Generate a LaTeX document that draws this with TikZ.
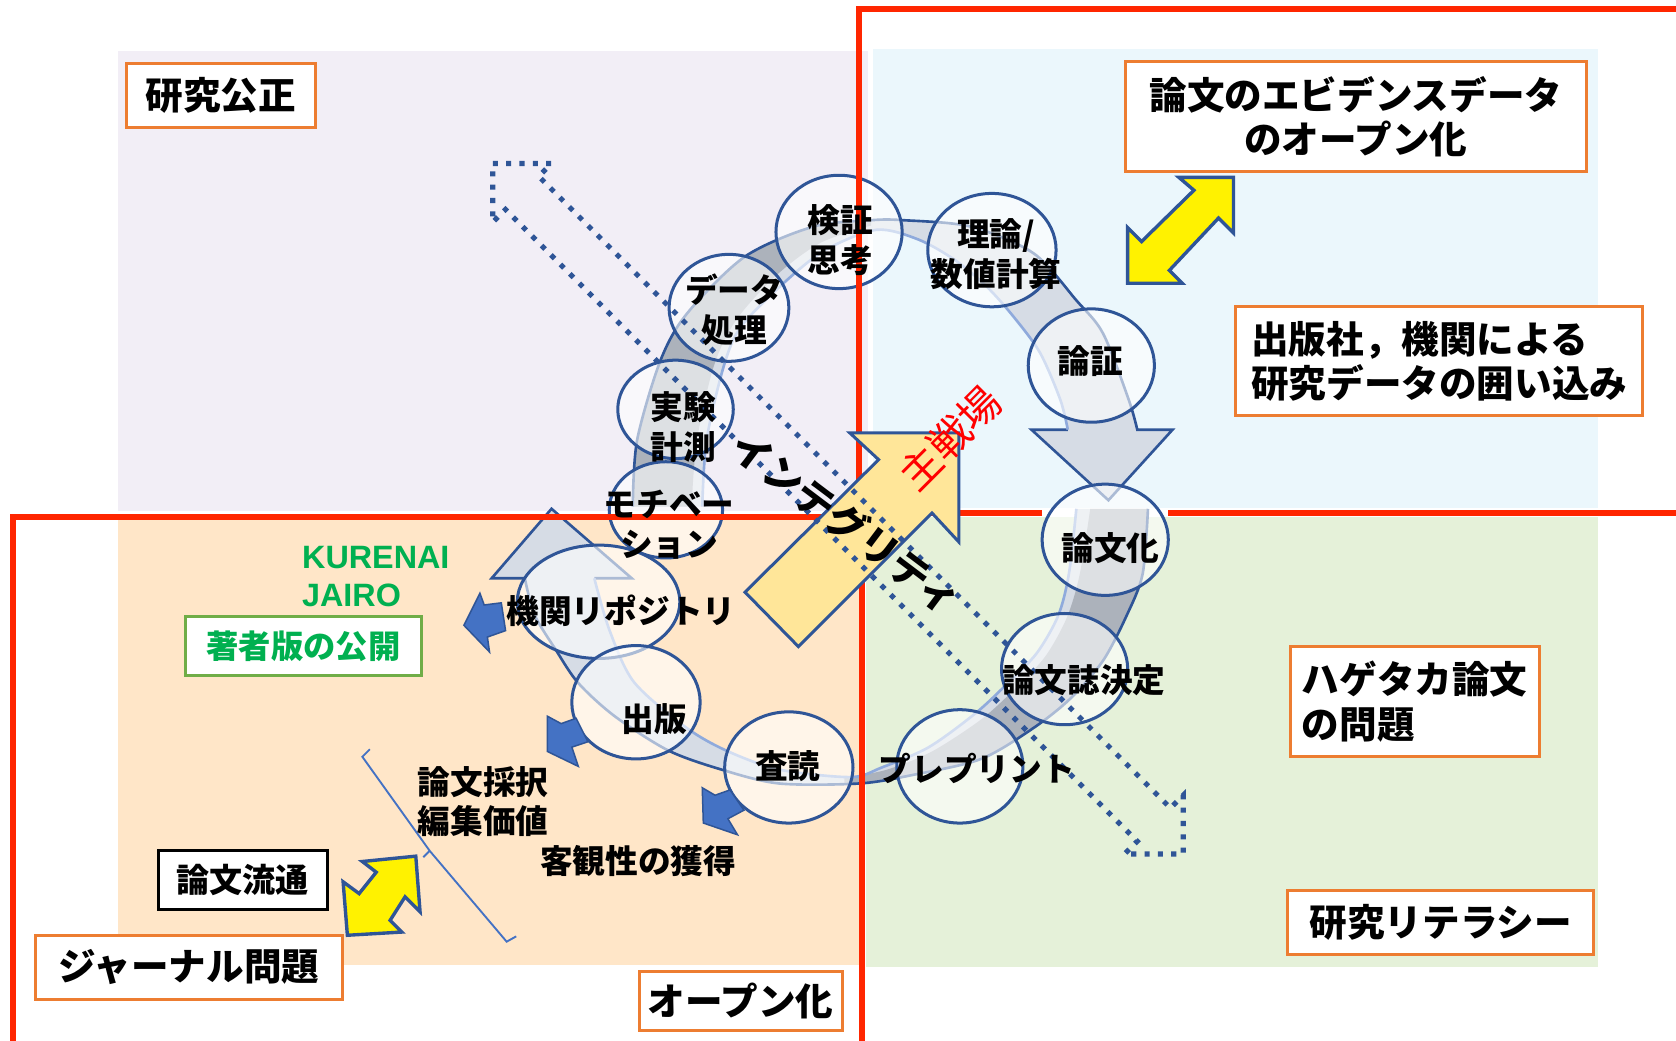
\documentclass[tikz,border=0pt]{standalone}
\usepackage{fontspec}
\usepackage{tikz}
\usetikzlibrary{shapes.geometric}

\newfontfamily\jp{Noto Sans CJK JP}
\newfontfamily\lat{Liberation Sans}

\definecolor{lav}{RGB}{242,238,246}
\definecolor{sky}{RGB}{235,247,252}
\definecolor{peach}{RGB}{255,230,200}
\definecolor{lime}{RGB}{229,241,217}
\definecolor{redline}{RGB}{255,38,0}
\definecolor{navy}{RGB}{47,85,151}
\definecolor{boxorange}{RGB}{237,125,49}
\definecolor{bandlight}{RGB}{214,220,229}
\definecolor{banddark}{RGB}{172,178,187}
\definecolor{bandedge}{RGB}{143,170,220}
\definecolor{arrowblue}{RGB}{68,114,196}
\definecolor{arrowgold}{RGB}{255,230,153}
\definecolor{greentext}{RGB}{0,176,80}
\definecolor{greenbox}{RGB}{112,173,71}

\tikzset{
  bub/.style={ellipse, draw=navy, line width=0.8pt, fill=white, fill opacity=0.6, inner sep=0pt},
  txt/.style={font=\jp\bfseries\fontsize{8.7}{10.6}\selectfont, align=center, inner sep=0pt},
  tag/.style={draw=boxorange, line width=0.8pt, fill=white, align=center, inner sep=0pt,
    font=\jp\bfseries\fontsize{10}{11.8}\selectfont},
  frame/.style={redline, line width=1.6pt},
  blockblue/.style={fill=arrowblue, draw=navy, line width=0.4pt},
  blockyellow/.style={fill=yellow, draw=navy, line width=0.9pt},
}

\begin{document}
\begin{tikzpicture}[x=0.01cm, y=-0.01cm]
\clip (0,0) rectangle (1568,973);

% Quadrants
\fill[lav] (110,48) rectangle (812,478);
\fill[sky] (817,46) rectangle (1495,475);
\fill[peach] (110,486) rectangle (806,903);
\fill[lime] (810,484) rectangle (1495,905);

% Research cycle, upper band
\fill[bandlight] plot[smooth] coordinates {(592,474) (596,412) (618,337) (643,293) (697,240) (761,212) (815,206) (845,206) (908,212) (967,237) (1007,281) (1032,312) (1056,374) (1064,402)}
  -- (1097,402) -- (1037,468) -- (965,402) -- (999,402)
  -- plot[smooth] coordinates {(999,402) (992,374) (973,330) (948,296) (923,268) (893,243) (859,224) (820,215) (772,234) (733,265) (693,306) (677,343) (661,412) (657,474)} -- cycle;
\fill[banddark] plot[smooth] coordinates {(592,474) (596,412) (618,337) (643,293) (697,240) (761,212) (815,206)}
  -- plot[smooth] coordinates {(815,211) (768,227) (727,257) (689,299) (668,342) (652,412) (647,474)} -- cycle;
\draw[navy, line width=0.7pt] plot[smooth] coordinates {(592,474) (596,412) (618,337) (643,293) (697,240) (761,212) (815,206) (845,206) (908,212) (967,237) (1007,281) (1032,312) (1056,374) (1064,402)}
  -- (1097,402) -- (1037,468) -- (965,402) -- (999,402);
\draw[bandedge, line width=0.7pt] plot[smooth] coordinates {(999,402) (992,374) (973,330) (948,296) (923,268) (893,243) (859,224) (820,215) (772,234) (733,265) (693,306) (677,343) (661,412) (657,474)};

% Research cycle, lower band
\fill[bandlight] plot[smooth] coordinates {(1074,476) (1069,537) (1054,576) (1032,618) (1002,653) (967,681) (918,710) (854,725) (804,733) (729,733) (675,720) (625,702) (575,670) (541,639) (520,608) (500,575) (491,541)}
  -- (460,541) -- (516,476) -- (591,541) -- (556,541)
  -- plot[smooth] coordinates {(556,541) (570,589) (593,638) (641,680) (679,702) (729,720) (796,727) (825,718) (869,699) (913,667) (943,639) (970,611) (990,576) (1000,537) (1007,476)} -- cycle;
\fill[banddark] plot[smooth] coordinates {(1074,476) (1069,537) (1054,576) (1032,618) (1002,653) (967,681) (918,710) (854,725) (804,733) (790,734)}
  -- plot[smooth] coordinates {(790,728) (830,720) (872,703) (918,673) (950,644) (978,614) (998,578) (1010,538) (1020,476)} -- cycle;
\draw[navy, line width=0.7pt] plot[smooth] coordinates {(1074,476) (1069,537) (1054,576) (1032,618) (1002,653) (967,681) (918,710) (854,725) (804,733) (729,733) (675,720) (625,702) (575,670) (541,639) (520,608) (500,575) (491,541)}
  -- (460,541) -- (516,476) -- (591,541) -- (556,541);
\draw[bandedge, line width=0.7pt] plot[smooth] coordinates {(556,541) (570,589) (593,638) (641,680) (679,702) (729,720) (796,727) (825,718) (869,699) (913,667) (943,639) (970,611) (990,576) (1000,537) (1007,476)};

% Steps of the cycle
\node[bub, minimum width=1.18cm, minimum height=1.06cm] (kensho) at (785,217) {};
\node[bub, minimum width=1.20cm, minimum height=1.06cm] (riron) at (928,234) {};
\node[bub, minimum width=1.18cm, minimum height=1.06cm] (ronsho) at (1021,342) {};
\node[bub, minimum width=1.12cm, minimum height=1.00cm] (data) at (682,288) {};
\node[bub, minimum width=1.08cm, minimum height=0.92cm] (jikken) at (632,383) {};
\node[bub, minimum width=1.06cm, minimum height=0.90cm] (motiv) at (623,477) {};
\node[bub, minimum width=1.52cm, minimum height=1.06cm] (kikan) at (560,563) {};
\node[bub, minimum width=1.20cm, minimum height=1.06cm] (shuppan) at (595,657) {};
\node[bub, minimum width=1.20cm, minimum height=1.04cm] (sadoku) at (738,718) {};
\node[bub, minimum width=1.18cm, minimum height=1.06cm] (preprint) at (898,717) {};
\node[bub, minimum width=1.18cm, minimum height=1.04cm] (ronbunshi) at (996,626) {};
\node[bub, minimum width=1.18cm, minimum height=1.04cm] (ronbunka) at (1034,505) {};

% Red frames
\draw[frame] (975,480) -- (804,480) -- (804,8) -- (1590,8) -- (1590,480) -- (1093,480);
\draw[frame] (12,990) -- (12,484) -- (806,484) -- (806,990);

% Small blue arrows
\filldraw[blockblue] (434,585) -- (449,555) -- (453,566) -- (469,564) -- (473,590) -- (456,596) -- (458,610) -- cycle;
\filldraw[blockblue] (512,703) -- (512,670) -- (525,677) -- (539,672) -- (550,694) -- (535,699) -- (541,717) -- cycle;
\filldraw[blockblue] (658,770) -- (657,737) -- (669,744) -- (683,739) -- (696,758) -- (681,766) -- (690,781) -- cycle;

% Yellow double arrows
\filldraw[blockyellow] (1154,166) -- (1154,218) -- (1140,204) -- (1094,253) -- (1106,265) -- (1055,265) -- (1055,213) -- (1068,226) -- (1117,178) -- (1103,166) -- cycle;
\filldraw[blockyellow] (389,801) -- (393,853) -- (379,839) -- (365,861) -- (376,872) -- (325,875) -- (321,825) -- (336,836) -- (352,816) -- (339,806) -- cycle;

% Bracket
\draw[arrowblue, line width=0.5pt] (346,701) -- (339,708) -- (402,796) -- (474,881) -- (483,876);
\draw[arrowblue, line width=0.5pt] (402,796) -- (396,802);

% Main arrow
\filldraw[fill=arrowgold, draw=navy, line width=0.8pt] (697,554) -- (822,430) -- (795,405) -- (897,405) -- (897,507) -- (872,480) -- (747,605) -- cycle;

% Integrity arrow
\draw[navy, line width=1.35pt, dash pattern=on 1.35pt off 2.2pt] (461,153) -- (516,153) -- (504,165) -- (1095,756) -- (1107,744) -- (1107,799) -- (1052,799) -- (1064,787) -- (473,196) -- (461,208) -- cycle;

% Cycle texts
\node[txt] (tkensho) at (786,225) {検証\\思考};
\node[txt] (triron) at (932,238) {理論/\\数値計算};
\node[txt] (tronsho) at (1020,338) {論証};
\node[txt] (tdata) at (687,290) {データ\\処理};
\node[txt] (tjikken) at (639,400) {実験\\計測};
\node[txt] (tmotiv) at (626,491) {モチベー\\ション};
\node[txt] (tkikan) at (581,571) {機関リポジトリ};
\node[txt] (tshuppan) at (612,673) {出版};
\node[txt] (tsadoku) at (737,717) {査読};
\node[txt] (tpreprint) at (914,719) {プレプリント};
\node[txt] (tronbunshi) at (1014,636) {論文誌決定};
\node[txt] (tronbunka) at (1039,513) {論文化};
\node[txt] (saitaku) at (452,750) {論文採択\\編集価値};
\node[txt] (kyakkan) at (597,806) {客観性の獲得};
\node[anchor=west, align=left, inner sep=0pt, text=greentext, font=\lat\bfseries\fontsize{8.6}{10}\selectfont] (kurenai) at (282,539.5) {KURENAI\\JAIRO};
\node[rotate=-37, inner sep=0pt, font=\jp\bfseries\fontsize{10.5}{12}\selectfont] (integrity) at (792,489) {インテグリティ};
\node[rotate=45, inner sep=0pt, text=red, font=\jp\fontsize{11}{12}\selectfont] (shusenjo) at (889,410) {主戦場};

% Theme boxes
\node[tag, minimum width=1.77cm, minimum height=0.60cm] (kosei) at (206.5,89) {研究公正};
\node[tag, minimum width=4.31cm, minimum height=1.02cm] (evidence) at (1268.5,109) {論文のエビデンスデータ\\のオープン化};
\node[tag, align=left, minimum width=3.81cm, minimum height=1.02cm] (kakoi) at (1346.5,338) {出版社，機関による\\研究データの囲い込み};
\node[tag, align=left, minimum width=2.33cm, minimum height=1.03cm] (hagetaka) at (1323.5,656.5) {ハゲタカ論文\\の問題};
\node[tag, minimum width=2.86cm, minimum height=0.60cm] (literacy) at (1348,863) {研究リテラシー};
\node[tag, minimum width=2.87cm, minimum height=0.60cm] (journal) at (176.5,905) {ジャーナル問題};
\node[tag, minimum width=1.90cm, minimum height=0.55cm] (openka) at (693,936.5) {オープン化};
\node[tag, draw=black, minimum width=1.58cm, minimum height=0.55cm, font=\jp\bfseries\fontsize{8.8}{10}\selectfont] (ryutsu) at (227,823.5) {論文流通};
\node[tag, draw=greenbox, text=greentext, minimum width=2.21cm, minimum height=0.55cm, font=\jp\bfseries\fontsize{8.6}{10}\selectfont] (chosha) at (284,604.5) {著者版の公開};

\end{tikzpicture}
\end{document}
